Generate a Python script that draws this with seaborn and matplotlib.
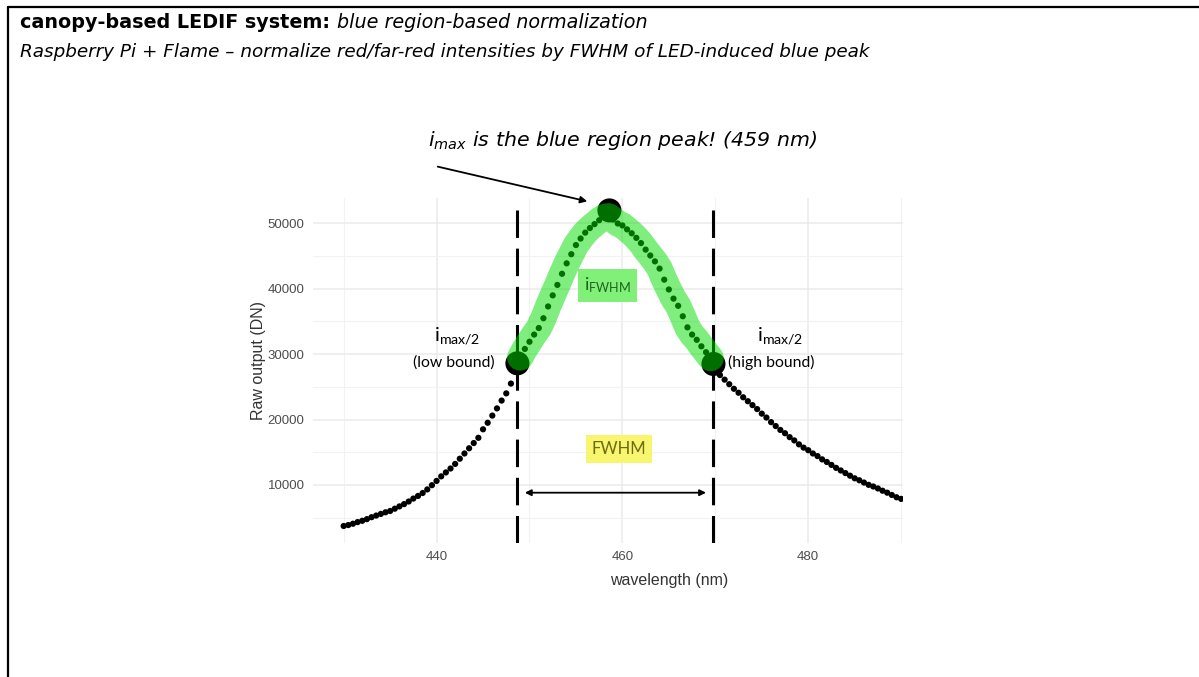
import numpy as np
import pandas as pd
import matplotlib
matplotlib.use("Agg")
import matplotlib.pyplot as plt
import seaborn as sns

# ---- data ----
wavelength = [430.0 + 0.5 * i for i in range(121)]
raw_output = [
    3700, 3850, 4050, 4300, 4500, 4750, 5050, 5300, 5550, 5800,
    6000, 6350, 6700, 7050, 7450, 7900, 8300, 8750, 9300, 9950,
    10600, 11300, 11900, 12500, 13200, 14000, 14800, 15600, 16400, 17200,
    18500, 19500, 20600, 21700, 22900, 24000, 25500, 27300, 29500, 30800,
    31900, 33000, 34000, 35500, 37300, 39000, 40600, 42300, 43900, 45300,
    46700, 47700, 48600, 49300, 49900, 50500, 50950, 51100, 50600, 50000,
    49700, 49100, 48500, 47800, 47000, 46000, 45100, 44200, 43100, 41400,
    39900, 38500, 37400, 35800, 34100, 33000, 32200, 31200, 30300, 29400,
    27300, 26800, 26100, 25400, 24700, 24100, 23400, 22800, 22200, 21600,
    20900, 20300, 19600, 19000, 18400, 17900, 17300, 16800, 16200, 15700,
    15300, 14800, 14400, 13900, 13500, 13050, 12600, 12200, 11800, 11400,
    11000, 10700, 10350, 10000, 9750, 9450, 9100, 8800, 8450, 8100,
    7850,
]
key_wl = [448.7, 458.6, 469.8]          # low bound, peak, high bound
key_val = [28600, 52000, 28500]
fwhm_bounds = [448.7, 469.8]
x_ticks = [440, 460, 480]
y_ticks = [10000, 20000, 30000, 40000, 50000]

df = pd.DataFrame({"wavelength": wavelength, "raw": raw_output})
keys = pd.DataFrame({"wavelength": key_wl, "raw": key_val})
hl = df[(df.wavelength >= fwhm_bounds[0]) & (df.wavelength <= fwhm_bounds[1])]

sns.set_theme(style="whitegrid")
FONT = ["Lato", "DejaVu Sans"]
WIDE = ["DejaVu Sans"]
plt.rcParams["font.family"] = FONT

W, H = 1199, 677
fig = plt.figure(figsize=(W / 100, H / 100), dpi=100)
ax_left, ax_right, ax_top, ax_bot = 313, 903, 198, 543
ax = fig.add_axes([ax_left / W, 1 - ax_bot / H, (ax_right - ax_left) / W,
                   (ax_bot - ax_top) / H])
ax.set_facecolor("white")

sns.scatterplot(data=df, x="wavelength", y="raw", ax=ax, color="black",
                s=20, edgecolor="none", zorder=3, legend=False)
sns.scatterplot(data=keys, x="wavelength", y="raw", ax=ax, color="black",
                s=300, edgecolor="none", zorder=4, legend=False)
sns.lineplot(data=hl, x="wavelength", y="raw", ax=ax, color=(0.0, 0.87, 0.0),
             alpha=0.5, linewidth=19, solid_capstyle="round", zorder=5,
             legend=False)

for b in fwhm_bounds:
    ax.axvline(b, ymin=0.0, ymax=0.965, color="black", linewidth=2.2,
               dashes=(9, 3.5), zorder=2)

ax.set_xlim(426.7, 490.2)
ax.set_ylim(1100, 53900)
ax.set_xticks(x_ticks)
ax.set_yticks(y_ticks)
ax.set_xticks([430, 450, 470, 490], minor=True)
ax.set_yticks([5000, 15000, 25000, 35000, 45000], minor=True)
ax.grid(True, which="major", color="#ebebeb", linewidth=1.1)
ax.grid(True, which="minor", color="#f2f2f2", linewidth=0.8)
for s in ax.spines.values():
    s.set_visible(False)
ax.tick_params(axis="both", which="both", length=0, labelsize=9.5,
               labelcolor="#4d4d4d", pad=6)
for lab in ax.get_xticklabels() + ax.get_yticklabels():
    lab.set_family(["Liberation Sans", "DejaVu Sans"])
ax.set_xlabel("wavelength (nm)", fontsize=11.5, color="#333333",
              family=["Liberation Sans", "DejaVu Sans"])
ax.set_ylabel("Raw output (DN)", fontsize=11.5, color="#333333",
              family=["Liberation Sans", "DejaVu Sans"])
ax.xaxis.set_label_coords((669 - ax_left) / (ax_right - ax_left),
                          -(580 - ax_bot) / (ax_bot - ax_top))
ax.yaxis.set_label_coords(-(ax_left - 258) / (ax_right - ax_left),
                          (ax_bot - 360) / (ax_bot - ax_top))
ax.xaxis.label.set_va("center")
ax.yaxis.label.set_va("center")

# FWHM arrow
ax.annotate("", xy=(469.0, 8800), xytext=(449.5, 8800),
            arrowprops=dict(arrowstyle="<|-|>", color="black", lw=1.3,
                            mutation_scale=9, shrinkA=0, shrinkB=0))
ax.text(459.6, 15500, "FWHM", ha="center", va="center", fontsize=12,
        color="#6e6a14",
        bbox=dict(boxstyle="square,pad=0.35", fc="#f8f56e", ec="none"))
ax.text(458.4, 40500, r"$\mathregular{i_{FWHM}}$", ha="center", va="center",
        fontsize=13, color="#1e641e",
        bbox=dict(boxstyle="square,pad=0.35", fc="#80f078", ec="none"))

# bound labels
ax.text(442.2, 32800, r"$\mathregular{i_{max/2}}$", ha="center", va="center",
        fontsize=14.5, color="black")
ax.text(441.9, 28700, "(low bound)", ha="center", va="center",
        fontsize=11.3, color="black")
ax.text(477.0, 32800, r"$\mathregular{i_{max/2}}$", ha="center", va="center",
        fontsize=14.5, color="black")
ax.text(476.0, 28700, "(high bound)", ha="center", va="center",
        fontsize=11.3, color="black")


def fit_width(t, target_px):
    fig.canvas.draw()
    w = t.get_window_extent().width
    t.set_fontsize(t.get_fontsize() * target_px / w)
    fig.canvas.draw()
    return t.get_window_extent()


# peak annotation (figure coords)
tp = fig.text(623 / W, 1 - 140 / H,
              r"$\mathregular{i_{max}}$ is the blue region peak! (459 nm)",
              ha="center", va="center", fontsize=15, style="italic",
              color="black", family=WIDE)
fit_width(tp, 390)
fig.add_artist(matplotlib.patches.FancyArrowPatch(
    (435 / W, 1 - 166 / H), (590 / W, 1 - 202 / H),
    transform=fig.transFigure, arrowstyle="-|>", mutation_scale=10,
    color="black", lw=1.3))

# header: both parts share one size, fitted to the full line width
HS = 13.0
t1 = fig.text(20 / W, 1 - 23 / H, "canopy-based LEDIF system:",
              ha="left", va="center", fontsize=HS, weight="bold",
              color="black", family=WIDE)
fig.canvas.draw()
bb1 = t1.get_window_extent()
t2 = fig.text((bb1.x1 + 7) / W, 1 - 23 / H,
              "blue region-based normalization", ha="left", va="center",
              fontsize=HS, style="italic", color="black", family=WIDE)
fig.canvas.draw()
total = t2.get_window_extent().x1 - 20
scale = 625 / total
t1.set_fontsize(HS * scale)
fig.canvas.draw()
bb1 = t1.get_window_extent()
t2.set_fontsize(HS * scale)
t2.set_x((bb1.x1 + 7) / W)

t3 = fig.text(20 / W, 1 - 52 / H,
              "Raspberry Pi + Flame \u2013 normalize red/far-red intensities by FWHM of LED-induced blue peak",
              ha="left", va="center", fontsize=12, style="italic",
              color="black", family=WIDE)
fit_width(t3, 847)

# slide frame lines
fig.add_artist(matplotlib.lines.Line2D([8 / W, 1], [1 - 7 / H, 1 - 7 / H],
                                       transform=fig.transFigure, color="black", lw=1.6))
fig.add_artist(matplotlib.lines.Line2D([8 / W, 8 / W], [0, 1 - 7 / H],
                                       transform=fig.transFigure, color="black", lw=1.6))

fig.savefig("out.png", dpi=100, facecolor="white")
